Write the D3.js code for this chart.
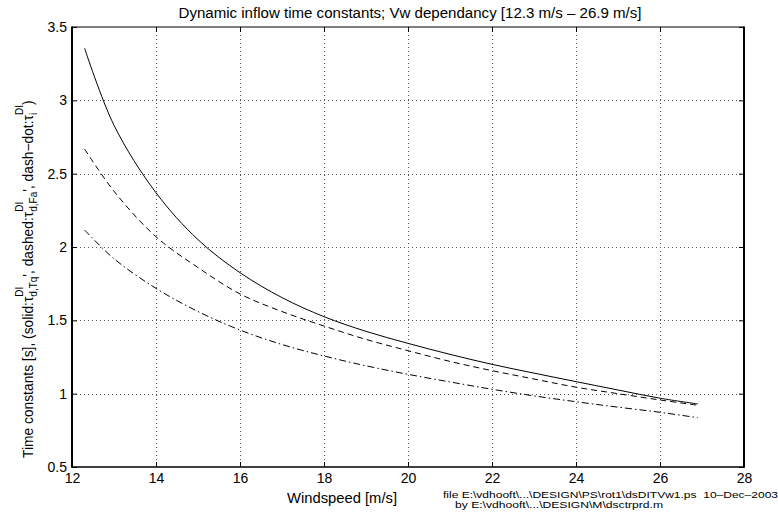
<!DOCTYPE html>
<html><head><meta charset="utf-8">
<script src="https://cdn.jsdelivr.net/npm/d3@7"></script>
<style>
body{margin:0;background:#fff;}
text{font-family:"Liberation Sans",Arial,Helvetica,sans-serif;fill:#000;}
</style></head>
<body><svg id="c" width="778" height="527"></svg>
<script>
const windspeed = [12.3, 13, 14, 15, 16, 17, 18, 19, 20, 21, 22, 23, 24, 25, 26, 26.9];
const tauTq = [3.355, 2.83, 2.37, 2.05, 1.825, 1.655, 1.525, 1.425, 1.343, 1.268, 1.200, 1.14, 1.082, 1.025, 0.969, 0.930];
const tauFa = [2.668, 2.38, 2.07, 1.86, 1.68, 1.56, 1.461, 1.37, 1.293, 1.22, 1.157, 1.10, 1.044, 1.00, 0.957, 0.921];
const tauI  = [2.116, 1.92, 1.718, 1.56, 1.434, 1.335, 1.257, 1.19, 1.132, 1.08, 1.030, 0.985, 0.945, 0.908, 0.873, 0.836];
const xTicks = [12, 14, 16, 18, 20, 22, 24, 26, 28];
const yTicks = [0.5, 1, 1.5, 2, 2.5, 3, 3.5];

const svg = d3.select("#c");
const L = 72, R = 744, T = 27, B = 467;
const x = d3.scaleLinear().domain([12, 28]).range([L, R]);
const y = d3.scaleLinear().domain([0.5, 3.5]).range([B, T]);
const px = v => Math.round(v) + 0.5;

// grid
const g = svg.append("g").attr("shape-rendering", "crispEdges");
g.selectAll("line.gx").data(xTicks.slice(1, -1)).enter().append("line").attr("class", "gx")
  .attr("x1", d => px(x(d))).attr("x2", d => px(x(d))).attr("y1", T).attr("y2", B)
  .attr("stroke", "#555").attr("stroke-width", 1).attr("stroke-dasharray", "1,3");
g.selectAll("line.gy").data(yTicks.slice(1, -1)).enter().append("line").attr("class", "gy")
  .attr("y1", d => px(y(d))).attr("y2", d => px(y(d))).attr("x1", L).attr("x2", R)
  .attr("stroke", "#555").attr("stroke-width", 1).attr("stroke-dasharray", "1,3");

// axes with inward ticks
const tl = 5;
const axB = d3.axisBottom(x).tickValues(xTicks).tickSizeInner(-tl).tickSizeOuter(0).tickPadding(6).tickFormat(d3.format("d"));
const axL = d3.axisLeft(y).tickValues(yTicks).tickSizeInner(-tl).tickSizeOuter(0).tickPadding(5).tickFormat(d => String(d));
const axT = d3.axisTop(x).tickValues(xTicks).tickSizeInner(-tl).tickSizeOuter(0).tickFormat("");
const axR = d3.axisRight(y).tickValues(yTicks).tickSizeInner(-tl).tickSizeOuter(0).tickFormat("");
function style(sel){ sel.selectAll("path").remove(); sel.selectAll("line").attr("stroke","#000"); sel.selectAll("text").attr("font-size", 14).attr("font-family","Liberation Sans,Arial,sans-serif").attr("fill","#000"); }
svg.append("g").attr("transform", `translate(0,${B})`).call(axB).call(style);
svg.append("g").attr("transform", `translate(${L},0)`).call(axL).call(style);
svg.append("g").attr("transform", `translate(0,${T})`).call(axT).call(style);
svg.append("g").attr("transform", `translate(${R},0)`).call(axR).call(style);

// box
svg.append("line").attr("x1",L).attr("x2",R).attr("y1",T).attr("y2",T).attr("stroke","#000").attr("stroke-width",1);
svg.append("line").attr("x1",L).attr("x2",R).attr("y1",B).attr("y2",B).attr("stroke","#000").attr("stroke-width",1.5);
svg.append("line").attr("x1",L).attr("x2",L).attr("y1",T-0.5).attr("y2",B+0.75).attr("stroke","#000").attr("stroke-width",2);
svg.append("line").attr("x1",R).attr("x2",R).attr("y1",T-0.5).attr("y2",B+0.75).attr("stroke","#000").attr("stroke-width",2);

// curves
const line = d3.line().x(d => x(d[0])).y(d => y(d[1])).curve(d3.curveCatmullRom.alpha(0.5));
const series = [
  {v: tauTq, dash: null},
  {v: tauFa, dash: "6,4"},
  {v: tauI, dash: "7,3,1.5,3"}
];
series.forEach(s => {
  svg.append("path").datum(windspeed.map((w, i) => [w, s.v[i]]))
    .attr("d", line).attr("fill", "none").attr("stroke", "#000").attr("stroke-width", 1)
    .attr("stroke-dasharray", s.dash);
});

// title
svg.append("text").attr("x", 410).attr("y", 18).attr("text-anchor", "middle").attr("font-size", 14)
  .attr("textLength", 463).attr("lengthAdjust", "spacingAndGlyphs")
  .text("Dynamic inflow time constants; Vw dependancy [12.3 m/s \u2013 26.9 m/s]");
// xlabel
svg.append("text").attr("x", 342).attr("y", 503).attr("text-anchor", "middle").attr("font-size", 14)
  .attr("textLength", 110).attr("lengthAdjust", "spacingAndGlyphs")
  .text("Windspeed [m/s]");

// ylabel with sub/superscripts
const FS = 13.8, SS = 10;
const tmp = svg.append("text").attr("font-size", FS);
const tmpS = svg.append("text").attr("font-size", SS);
function w(t, s){ const e = s ? tmpS : tmp; e.text(t); return e.node().getComputedTextLength(); }
const segs = [
  {t:"Time constants [s], (solid:\u03c4", sub:"d,Tq", sup:"DI"},
  {t:"', dashed:\u03c4", sub:"d,Fa", sup:"DI"},
  {t:"', dash\u2212dot:\u03c4", sub:"i", sup:"DI"},
  {t:")"}
];
let cursor = 0;
const gl = svg.append("g").attr("transform", "translate(33,458) rotate(-90)");
segs.forEach(s => {
  gl.append("text").attr("x", cursor).attr("y", 0).attr("font-size", FS).text(s.t);
  cursor += w(s.t, false);
  if (s.sub) {
    gl.append("text").attr("x", cursor).attr("y", 4).attr("font-size", SS).text(s.sub);
    gl.append("text").attr("x", cursor).attr("y", -10).attr("font-size", SS).text(s.sup);
    cursor += Math.max(w(s.sub, true), w(s.sup, true));
  }
});
tmp.remove(); tmpS.remove();

// footer
svg.append("text").attr("x", 443).attr("y", 498).attr("font-size", 9.5)
  .attr("textLength", 335).attr("lengthAdjust", "spacingAndGlyphs")
  .text("file E:\\vdhooft\\...\\DESIGN\\PS\\rot1\\dsDITVw1.ps\u00a0\u00a010\u2013Dec\u20132003");
svg.append("text").attr("x", 455).attr("y", 508).attr("font-size", 9.5)
  .attr("textLength", 208).attr("lengthAdjust", "spacingAndGlyphs")
  .text("by E:\\vdhooft\\...\\DESIGN\\M\\dsctrprd.m");
</script></body></html>
